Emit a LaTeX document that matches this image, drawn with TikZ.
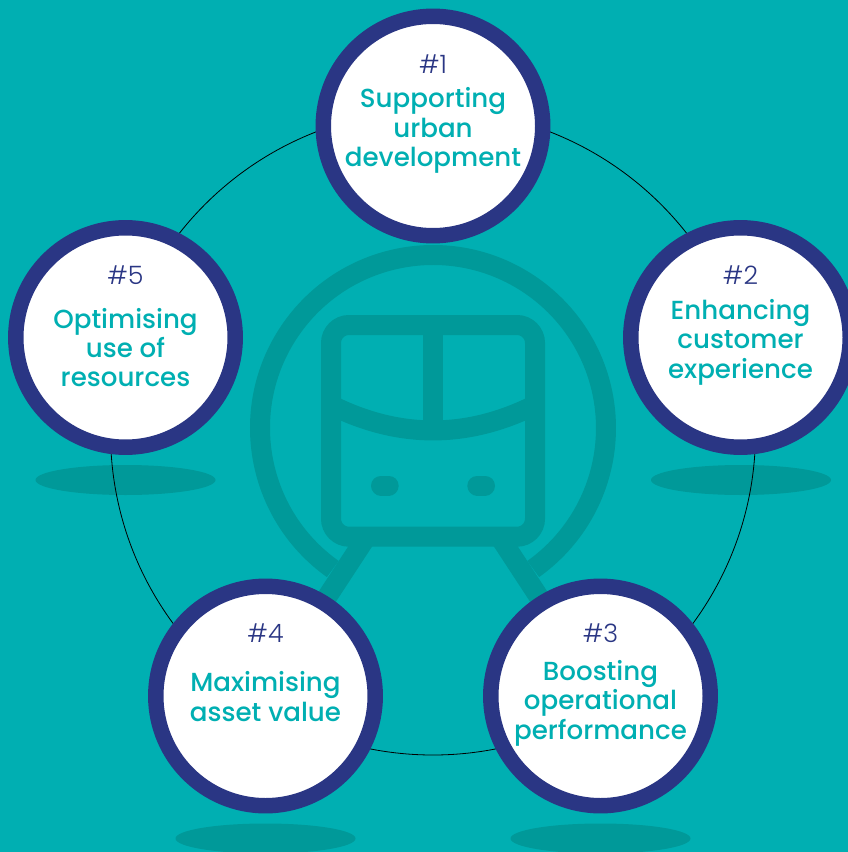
\documentclass[tikz,border=0pt]{standalone}
\usepackage{fontspec}
\usetikzlibrary{shapes.geometric}
\setmainfont{Poppins}
\newfontfamily\numfont{Poppins Light}
\newfontfamily\titlefont{Poppins Medium}
\definecolor{bgteal}{RGB}{0,175,178}
\definecolor{darkteal}{RGB}{0,153,153}
\definecolor{navy}{RGB}{42,54,132}
\tikzset{
  badge/.style={circle,draw=navy,fill=white,line width=11.6pt,minimum size=164.6pt,inner sep=0pt,outer sep=0pt},
  shadowdisc/.style={ellipse,fill=darkteal,minimum width=135pt,minimum height=22.5pt,inner sep=0pt},
  numlabel/.style={anchor=base,inner sep=0pt,text=navy,font=\numfont\fontsize{19pt}{22pt}\selectfont},
  titlelabel/.style={anchor=base,inner sep=0pt,text=bgteal,font=\titlefont\fontsize{19.6pt}{22pt}\selectfont},
  icon/.style={draw=darkteal,line width=15pt},
  orbit/.style={circle,draw=black,line width=0.6pt,minimum size=483.75pt,inner sep=0pt,outer sep=0pt}
}
\begin{document}
\begin{tikzpicture}[x=0.75pt,y=-0.75pt]
\useasboundingbox (0,0) rectangle (848,852);
\clip (0,0) rectangle (848,852);
\fill[bgteal] (0,0) rectangle (848,852);
% shadows
\node[shadowdisc] (s5) at (125.5,480) {};
\node[shadowdisc] (s2) at (741,480) {};
\node[shadowdisc] (s4) at (265.5,838.5) {};
\node[shadowdisc] (s3) at (600.5,838.5) {};
% train icon
\draw[icon] (433,428) ++(125.4:173) arc[start angle=125.4,end angle=414.6,radius=173];
\draw[icon,rounded corners=13.5pt] (331,325) rectangle (535,536.7);
\draw[icon] (433,325) -- (433,430);
\draw[icon] (331,405) .. controls (399,438.9) and (467,438.9) .. (535,405);
\draw[icon,line cap=round] (381,485.5) -- (388.7,485.5);
\draw[icon,line cap=round] (477.3,485.5) -- (485,485.5);
\draw[icon] (364.4,540) -- (312,620);
\draw[icon] (501.6,540) -- (554,620);
% orbit
\node[orbit] (ring) at (433,432.5) {};
% badges
\node[badge] (b1) at (433,126) {};
\node[badge] (b2) at (740.5,337.5) {};
\node[badge] (b3) at (600.5,696) {};
\node[badge] (b4) at (265.5,696) {};
\node[badge] (b5) at (125.5,337.5) {};
% labels
\node[numlabel] (n1) at (433,73.5) {\#1};
\node[titlelabel] (t1a) at (433,107.5) {Supporting};
\node[titlelabel] (t1b) at (433,137.5) {urban};
\node[titlelabel] (t1c) at (433,167) {development};
\node[numlabel] (n2) at (740.5,284.5) {\#2};
\node[titlelabel] (t2a) at (740.5,319) {Enhancing};
\node[titlelabel] (t2b) at (740.5,348.5) {customer};
\node[titlelabel] (t2c) at (740.5,378) {experience};
\node[numlabel] (n3) at (600.5,642.5) {\#3};
\node[titlelabel] (t3a) at (600.5,680.5) {Boosting};
\node[titlelabel] (t3b) at (600.5,709.5) {operational};
\node[titlelabel] (t3c) at (600.5,739.5) {performance};
\node[numlabel] (n4) at (265.5,642.5) {\#4};
\node[titlelabel] (t4a) at (265.5,691.5) {Maximising};
\node[titlelabel] (t4b) at (265.5,721.5) {asset value};
\node[numlabel] (n5) at (125.5,284.5) {\#5};
\node[titlelabel] (t5a) at (125.5,328.5) {Optimising};
\node[titlelabel] (t5b) at (125.5,357.5) {use of};
\node[titlelabel] (t5c) at (125.5,386.5) {resources};
\end{tikzpicture}
\end{document}
